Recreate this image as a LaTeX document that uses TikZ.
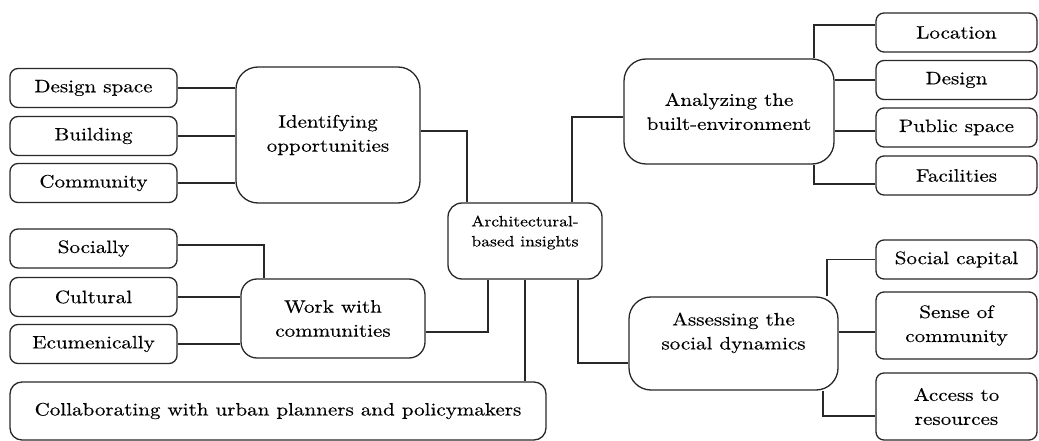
\documentclass[tikz,border=0pt]{standalone}
\usepackage{fontspec}
\newfontfamily\diagfont{lmroman10-regular}[Extension=.otf, FakeStretch=1.17, FakeBold=0.3]
\usetikzlibrary{positioning}
\definecolor{boxline}{RGB}{40,40,40}

\begin{document}
\begin{tikzpicture}[x=1pt, y=-1pt, line width=1.3pt, draw=boxline,
    every node/.style = {shape=rectangle, draw=boxline, align=center,
      font=\diagfont\fontsize{18}{24}\selectfont},
    leaf/.style = {rounded corners=8pt, minimum width=167pt, minimum height=39pt, inner sep=2pt},
    twoleaf/.style = {leaf, minimum height=67pt},
    topic/.style = {rounded corners=22pt, inner sep=2pt},
    hub/.style = {rounded corners=14pt, minimum width=154pt, minimum height=76pt,
      font=\diagfont\fontsize{15}{20}\selectfont, text depth=20pt}]
  \useasboundingbox (0,0) rectangle (1039,441);

  % the hub
  \node[hub] (insights) at (525,241) {Architectural-\\based insights};

  % left side
  \node[topic, minimum width=184pt, minimum height=136pt] (identify) at (328,135) {Identifying\\opportunities};
  \node[leaf] (designspace) at (93.5,88) {Design space};
  \node[leaf] (building) at (93.5,136) {Building};
  \node[leaf] (community) at (93.5,183) {Community};

  \node[topic, rounded corners=16pt, minimum width=184pt, minimum height=79pt] (workwith) at (333,318.5) {Work with\\communities};
  \node[leaf] (socially) at (93.5,248.5) {Socially};
  \node[leaf] (cultural) at (93.5,297) {Cultural};
  \node[leaf] (ecumenic) at (93.5,344) {Ecumenically};

  \node[leaf, minimum width=536pt, minimum height=58pt, rounded corners=12pt] (collab) at (278,411) {Collaborating with urban planners and policymakers};

  % right side
  \node[topic, minimum width=210pt, minimum height=105pt] (analyze) at (729,111.5) {Analyzing the\\built-environment};
  \node[leaf, minimum width=161pt] (location) at (956.5,32.5) {Location};
  \node[leaf, minimum width=161pt] (design) at (956.5,80) {Design};
  \node[leaf, minimum width=161pt] (publicsp) at (956.5,127.5) {Public space};
  \node[leaf, minimum width=161pt] (facilities) at (956.5,175.5) {Facilities};

  \node[topic, minimum width=209pt, minimum height=93pt, text depth=25pt] (assess) at (733.5,343.5) {Assessing the\\social dynamics};
  \node[leaf, minimum width=161pt] (socialcap) at (956.5,259.5) {Social capital};
  \node[twoleaf, minimum width=161pt] (sense) at (956.5,325.5) {Sense of\\community};
  \node[twoleaf, minimum width=161pt] (access) at (956.5,406.5) {Access to\\resources};

  % connectors
  \draw (designspace.east) -- (designspace.east -| identify.west);
  \draw (building.east) -- (building.east -| identify.west);
  \draw (community.east) -- (community.east -| identify.west);
  \draw ([yshift=4pt]identify.east) -| ([xshift=-58pt]insights.north);

  \draw ([yshift=3.5pt]socially.east) -| ([xshift=-69pt]workwith.north);
  \draw (cultural.east) -- (cultural.east -| workwith.west);
  \draw (ecumenic.east) -- (ecumenic.east -| workwith.west);
  \draw ([yshift=-13.5pt]workwith.east) -| ([xshift=-37pt]insights.south);

  \draw (insights.south) -- (insights.south |- collab.north);

  \draw ([xshift=47pt]insights.north) |- ([yshift=-5.5pt]analyze.west);
  \draw ([xshift=85pt]analyze.north) |- ([yshift=7.5pt]location.west);
  \draw (design.west) -- (design.west -| analyze.east);
  \draw ([yshift=-3.5pt]publicsp.west) -- ([yshift=-3.5pt]publicsp.west -| analyze.east);
  \draw ([xshift=85pt]analyze.south) |- ([yshift=-8.5pt]facilities.west);

  \draw ([xshift=53pt]insights.south) |- ([yshift=-19.5pt]assess.west);
  \draw ([xshift=93.5pt]assess.north) |- (socialcap.west);
  \draw ([yshift=-6.5pt]sense.west) -- ([yshift=-6.5pt]sense.west -| assess.east);
  \draw ([xshift=89.5pt]assess.south) |- ([yshift=-9.5pt]access.west);
\end{tikzpicture}
\end{document}
